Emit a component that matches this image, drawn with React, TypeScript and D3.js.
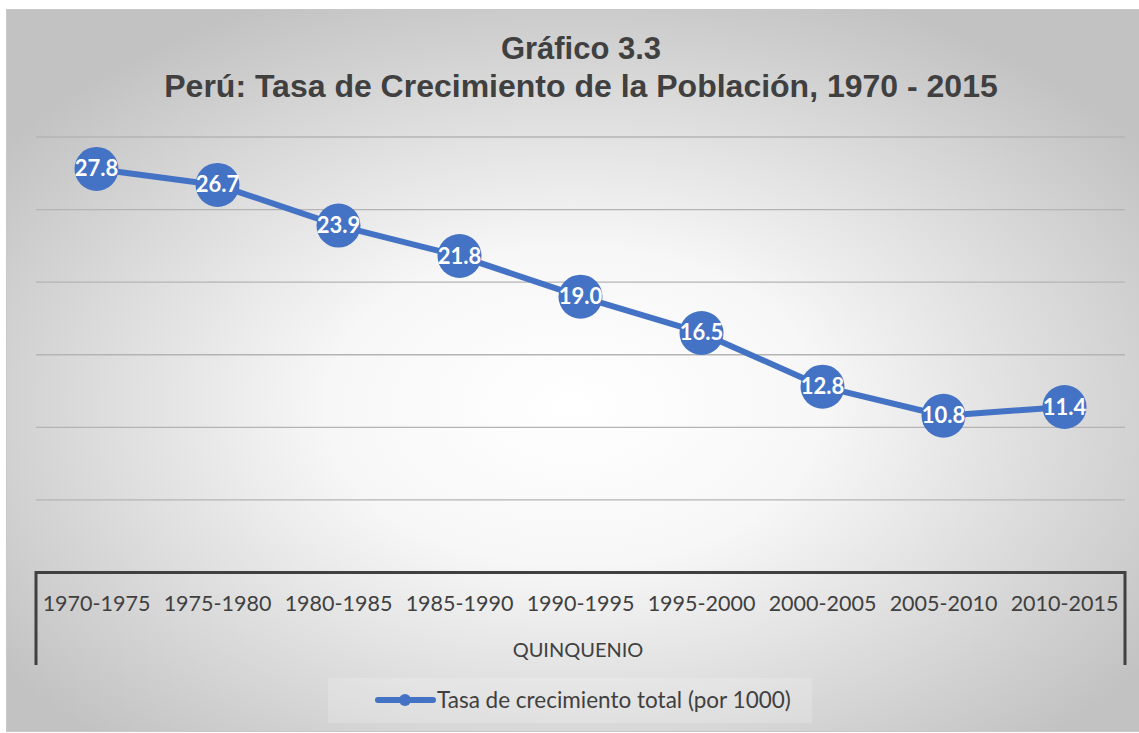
import React from "react";
import * as d3 from "d3";

const categories = ["1970-1975", "1975-1980", "1980-1985", "1985-1990", "1990-1995", "1995-2000", "2000-2005", "2005-2010", "2010-2015"];
const values = [27.8, 26.7, 23.9, 21.8, 19.0, 16.5, 12.8, 10.8, 11.4];
const gridTicks = [5, 10, 15, 20, 25, 30];
const titleLine1 = "Gráfico 3.3";
const titleLine2 = "Perú: Tasa de Crecimiento de la Población, 1970 - 2015";
const axisTitle = "QUINQUENIO";
const seriesName = "Tasa de crecimiento total (por 1000)";

const W = 1139;
const H = 733;
const plotLeft = 36;
const plotRight = 1125;
const blue = "#4472C4";
const textGrey = "#404040";
const bodyFont = "Lato, 'Open Sans', sans-serif";

export default function App() {
  const x = d3.scaleBand<string>().domain(categories).range([plotLeft, plotRight]).padding(0);
  const y = d3.scaleLinear().domain([0, 30]).range([572.5, 137]);
  const cx = (c: string) => (x(c) ?? 0) + x.bandwidth() / 2;
  const pts: [number, number][] = categories.map((c, i) => [cx(c), y(values[i])]);
  const line = d3.line()(pts) ?? "";
  const y0 = y(0);

  return (
    <svg width={W} height={H} style={{ position: "absolute", left: 0, top: 0, display: "block" }}>
      <defs>
        <radialGradient id="bg" cx="50%" cy="55%" r="62%">
          <stop offset="0%" stopColor="#ffffff" />
          <stop offset="35%" stopColor="#f7f7f7" />
          <stop offset="100%" stopColor="#c2c2c2" />
        </radialGradient>
      </defs>
      <rect x={0} y={0} width={W} height={H} fill="#ffffff" />
      <rect x={6.5} y={9.5} width={W - 6} height={H - 11} fill="url(#bg)" stroke="#c8c8c8" strokeWidth={1} />

      <text x={581} y={59} textAnchor="middle" fontFamily="'Liberation Sans', Arial, sans-serif" fontWeight="bold" fontSize={31} fill={textGrey}>{titleLine1}</text>
      <text x={581} y={97} textAnchor="middle" fontFamily="'Liberation Sans', Arial, sans-serif" fontWeight="bold" fontSize={32} fill={textGrey}>{titleLine2}</text>

      {gridTicks.map((t) => (
        <line key={t} x1={plotLeft} x2={plotRight} y1={y(t)} y2={y(t)} stroke="#b4b4b4" strokeWidth={1.3} />
      ))}

      <path d={`M${plotLeft},665 L${plotLeft},${y0} L${plotRight},${y0} L${plotRight},665`} fill="none" stroke={textGrey} strokeWidth={3} />

      {categories.map((c) => (
        <text key={c} x={cx(c)} y={611} textAnchor="middle" fontFamily={bodyFont} fontSize={21.5} fill={textGrey}>{c}</text>
      ))}
      <text x={578} y={657} textAnchor="middle" fontFamily={bodyFont} fontSize={20} fill={textGrey}>{axisTitle}</text>

      <path d={line} fill="none" stroke={blue} strokeWidth={6} strokeLinejoin="round" />
      {pts.map(([px, py], i) => (
        <g key={i}>
          <circle cx={px} cy={py} r={22} fill={blue} />
          <text x={px} y={py + 7.5} textAnchor="middle" fontFamily={bodyFont} fontWeight="bold" fontSize={22} fill="#ffffff">{values[i].toFixed(1)}</text>
        </g>
      ))}

      <rect x={328} y={678} width={484} height={45} fill="#ffffff" fillOpacity={0.18} />
      <line x1={378} x2={433} y1={700} y2={700} stroke={blue} strokeWidth={6} strokeLinecap="round" />
      <circle cx={405} cy={700} r={6} fill={blue} />
      <text x={437} y={708} fontFamily={bodyFont} fontSize={22.5} fill={textGrey}>{seriesName}</text>
    </svg>
  );
}
